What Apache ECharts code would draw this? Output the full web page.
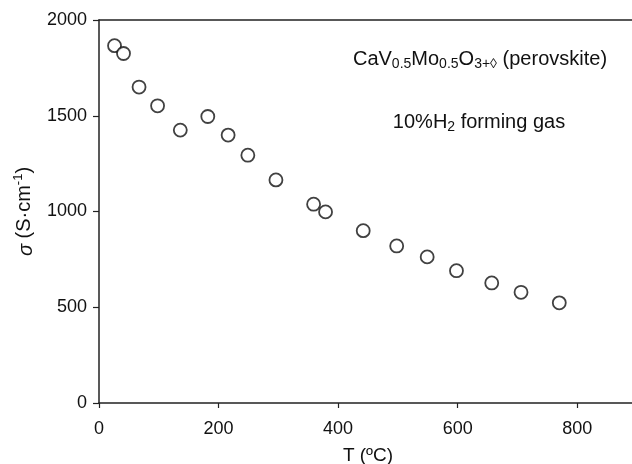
<!DOCTYPE html>
<html>
<head>
<meta charset="utf-8">
<script src="https://cdn.jsdelivr.net/npm/echarts@6/dist/echarts.min.js"></script>
<style>html,body{margin:0;padding:0;background:#fff}#c{width:632px;height:464px}</style>
</head>
<body>
<div id="c"></div>
<script>
var temperatureC = [26, 41, 67, 98, 136, 182, 216, 249, 296, 359, 379, 442, 498, 549, 598, 657, 706, 770];
var conductivity = [1866, 1825, 1650, 1552, 1425, 1496, 1399, 1294, 1165, 1038, 998, 900, 820, 763, 691, 627, 578, 523];
var xTicks = [0, 200, 400, 600, 800];
var yTicks = [0, 500, 1000, 1500, 2000];

var FONT = '"Liberation Sans", Arial, sans-serif';
var points = temperatureC.map(function (t, i) { return [t, conductivity[i]]; });
var axisColor = '#222';

var chart = echarts.init(document.getElementById('c'));
chart.setOption({
  animation: false,
  backgroundColor: '#fff',
  grid: { left: 99, top: 20, right: -5, bottom: 61, containLabel: false, outerBoundsMode: 'none' },
  xAxis: [{
    type: 'value', min: 0, max: 900, interval: 200,
    name: 'T (ºC)', nameLocation: 'middle', nameGap: 43,
    nameTextStyle: { fontFamily: FONT, fontSize: 19, color: '#111' },
    axisLine: { show: true, onZero: false, lineStyle: { color: axisColor, width: 1.5 } },
    axisTick: { show: true, inside: false, length: 5, lineStyle: { color: axisColor, width: 1.2 } },
    axisLabel: { margin: 17, fontFamily: FONT, fontSize: 18, color: '#111', showMaxLabel: false,
      formatter: function (v) { return xTicks.indexOf(v) >= 0 ? String(v) : ''; } },
    splitLine: { show: false }
  }, {
    type: 'value', position: 'top', min: 0, max: 900,
    axisLine: { show: true, onZero: false, lineStyle: { color: axisColor, width: 1.5 } },
    axisTick: { show: false }, axisLabel: { show: false }, splitLine: { show: false }
  }],
  yAxis: {
    type: 'value', min: 0, max: 2000, interval: 500,
    name: '{i|σ} (S·cm{sup|-1})', nameLocation: 'middle', nameGap: 61, nameRotate: 90,
    nameTextStyle: {
      fontFamily: FONT, fontSize: 20, color: '#111',
      rich: {
        i: { fontFamily: FONT, fontSize: 20, fontStyle: 'italic', color: '#111', lineHeight: 24, verticalAlign: 'bottom' },
        sup: { fontFamily: FONT, fontSize: 13, color: '#111', lineHeight: 13, verticalAlign: 'top' }
      }
    },
    axisLine: { show: true, onZero: false, lineStyle: { color: axisColor, width: 1.5 } },
    axisTick: { show: true, inside: false, length: 6, lineStyle: { color: axisColor, width: 1.2 } },
    axisLabel: { margin: 12, fontFamily: FONT, fontSize: 18, color: '#111',
      formatter: function (v) { return yTicks.indexOf(v) >= 0 ? String(v) : ''; } },
    splitLine: { show: false }
  },
  series: [{
    type: 'scatter',
    data: points,
    symbol: 'circle',
    symbolSize: 13,
    itemStyle: { color: '#fff', borderColor: '#111', borderWidth: 1.8 },
    emphasis: { disabled: true }
  }],
  graphic: [{
    type: 'text', x: 480, y: 60,
    style: {
      text: '{n|CaV}{s|0.5}{n|Mo}{s|0.5}{n|O}{s|3+◊}{n| (perovskite)}',
      align: 'center', verticalAlign: 'middle',
      rich: {
        n: { fontFamily: FONT, fontSize: 20, fill: '#111', lineHeight: 22, verticalAlign: 'top' },
        s: { fontFamily: FONT, fontSize: 14, fill: '#111', lineHeight: 14, padding: [9, 0, 0, 0], verticalAlign: 'bottom' }
      }
    }
  }, {
    type: 'text', x: 479, y: 123,
    style: {
      text: '{n|10%H}{s|2}{n| forming gas}',
      align: 'center', verticalAlign: 'middle',
      rich: {
        n: { fontFamily: FONT, fontSize: 20, fill: '#111', lineHeight: 22, verticalAlign: 'top' },
        s: { fontFamily: FONT, fontSize: 14, fill: '#111', lineHeight: 14, padding: [9, 0, 0, 0], verticalAlign: 'bottom' }
      }
    }
  }]
});
</script>
</body>
</html>
